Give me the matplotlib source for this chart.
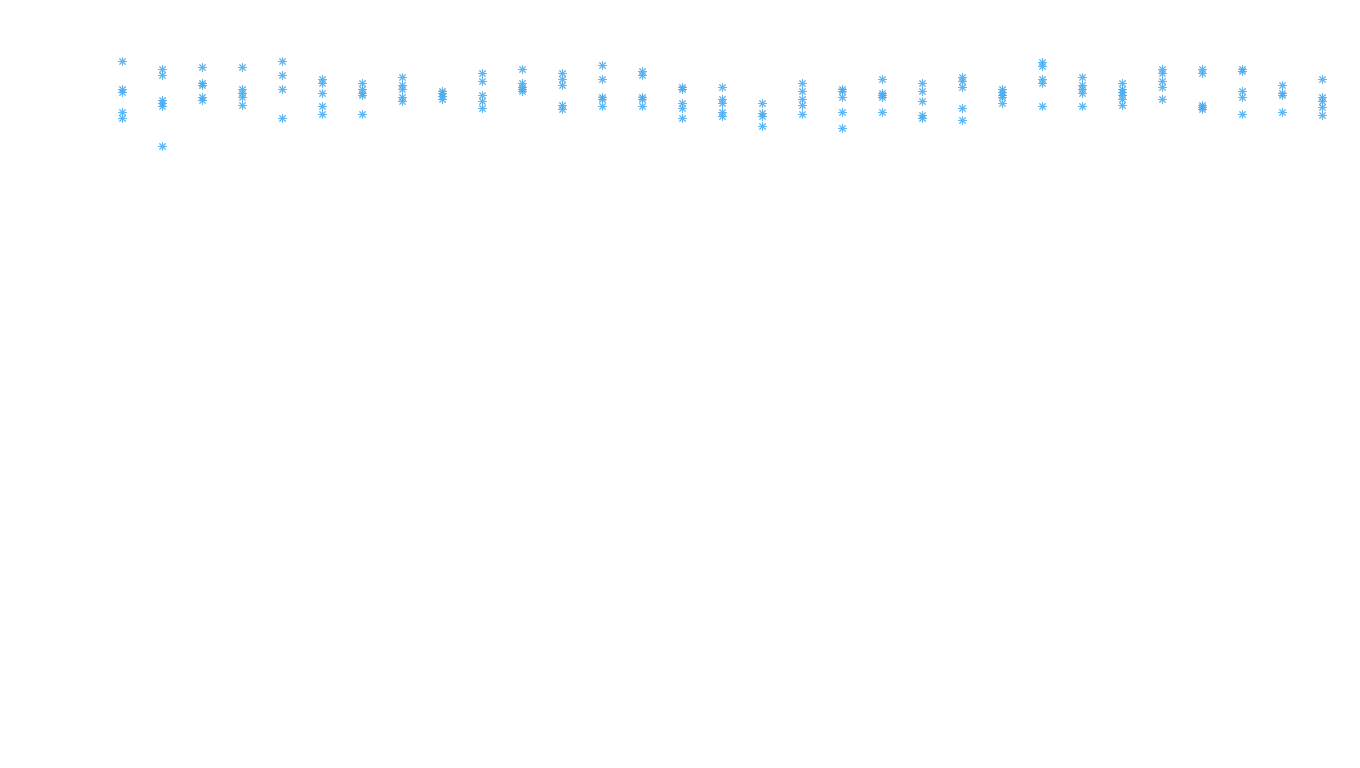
import matplotlib.pyplot as plt

# 列ごとの値（上ほど大きい）
groups = list(range(1, 32))
values = [
    [707, 679, 676, 656, 650],
    [699, 693, 668, 665, 662, 622],
    [701, 685, 683, 671, 668],
    [701, 679, 675, 671, 663],
    [707, 693, 679, 650],
    [689, 685, 675, 662, 654],
    [685, 679, 675, 673, 654],
    [691, 683, 679, 671, 667],
    [677, 675, 672, 669],
    [695, 687, 673, 667, 660],
    [699, 685, 681, 679, 677],
    [695, 689, 683, 663, 659],
    [703, 689, 671, 669, 662],
    [697, 693, 671, 669, 662],
    [681, 679, 665, 660, 650],
    [681, 669, 665, 656, 652],
    [665, 655, 652, 642],
    [685, 677, 669, 663, 654],
    [679, 677, 671, 656, 640],
    [689, 675, 673, 671, 656],
    [685, 677, 667, 653, 650],
    [691, 687, 681, 660, 648],
    [679, 676, 673, 671, 665],
    [706, 702, 689, 685, 662],
    [691, 683, 679, 675, 662],
    [685, 679, 676, 673, 669, 663],
    [699, 695, 687, 681, 669],
    [699, 695, 663, 661, 659],
    [699, 697, 677, 671, 654],
    [683, 675, 673, 656],
    [689, 671, 667, 661, 653],
]

fig = plt.figure(figsize=(13.6, 7.68), dpi=100)
ax = fig.add_axes([0, 0, 1, 1])

for g, vals in zip(groups, values):
    ax.plot([g] * len(vals), vals, linestyle='none', marker=(8, 2, 0),
            markersize=6, color='#45aaf0', markeredgewidth=0.7, alpha=0.85)

# 余白はピクセル位置に合わせる
ax.set_xlim(1 - 122 / 40, 1 + (1360 - 122) / 40)
ax.set_ylim(0, 768)
ax.axis('off')

plt.savefig("out.png", dpi=100)
